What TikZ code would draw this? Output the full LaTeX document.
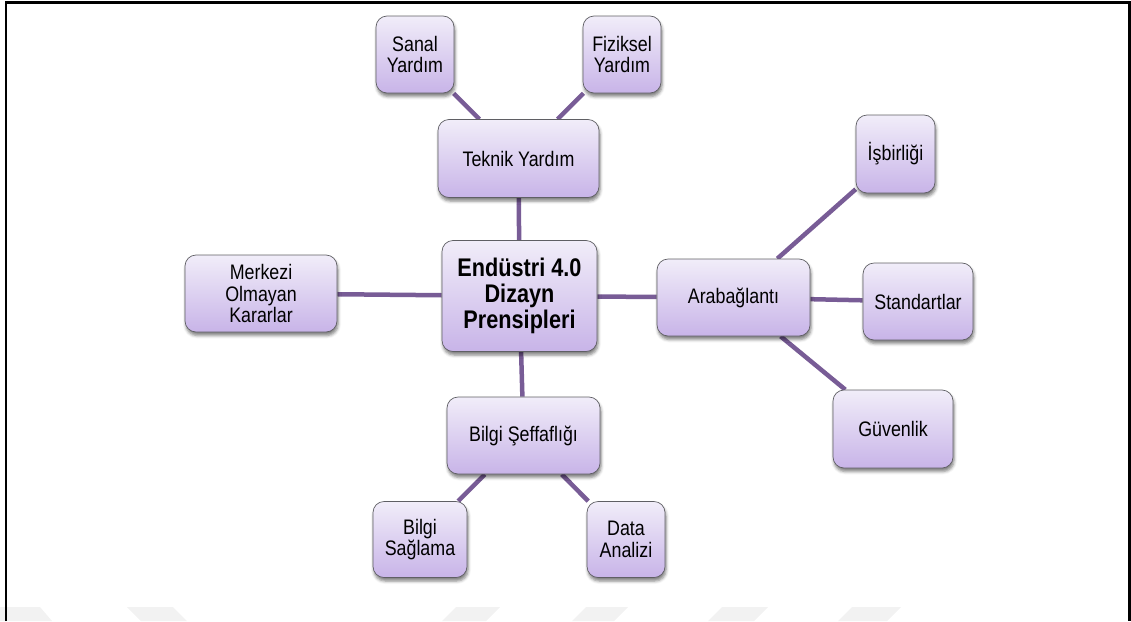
\documentclass[tikz,border=0pt]{standalone}
\usepackage{fontspec}
\setmainfont{Liberation Sans}[FakeStretch=0.85]
\usetikzlibrary{backgrounds,shadows.blur}

\definecolor{boxtop}{RGB}{241,237,249}
\definecolor{boxbot}{RGB}{200,180,232}
\definecolor{boxline}{RGB}{95,95,100}
\definecolor{linkcol}{RGB}{120,92,150}
\definecolor{markgray}{RGB}{242,242,242}

\begin{document}
\begin{tikzpicture}[x=1pt,y=-1pt,
  box/.style={draw=boxline, line width=0.7pt, rounded corners=11pt,
    top color=boxtop, bottom color=boxbot, align=center, inner sep=0pt,
    font=\fontsize{21}{21.5}\selectfont,
    blur shadow={shadow xshift=1pt, shadow yshift=-3.5pt,
      shadow blur radius=3pt, shadow opacity=50}},
  hub/.style={box, font=\bfseries\fontsize{25.5}{26}\selectfont},
  link/.style={draw=linkcol, line width=4.5pt},
  frameline/.style={draw=black, line width=2.2pt},
  slantmark/.style={fill=markgray}]

\useasboundingbox (0,0) rectangle (1131,621);

% light marks along the lower edge
\fill[slantmark] (-20,607) -- (40,607) -- (52,621) -- (-8,621) -- cycle;
\fill[slantmark] (127,607) -- (173,607) -- (187,621) -- (141,621) -- cycle;
\fill[slantmark] (456,607) -- (500,607) -- (486,621) -- (442,621) -- cycle;
\fill[slantmark] (586,607) -- (628,607) -- (614,621) -- (572,621) -- cycle;
\fill[slantmark] (722,607) -- (768,607) -- (754,621) -- (708,621) -- cycle;
\fill[slantmark] (852,607) -- (901,607) -- (887,621) -- (838,621) -- cycle;

% open frame
\draw[frameline] (6,621) -- (6,2.5) -- (1129.5,2.5) -- (1129.5,621);

% nodes
\node[hub, minimum width=155pt, minimum height=111pt] (hub) at (519.5,296) {Endüstri 4.0\\Dizayn\\Prensipleri};

\node[box, minimum width=161pt, minimum height=78pt] (tek) at (518.5,158.5) {Teknik Yardım};
\node[box, minimum width=78pt, minimum height=77pt] (san) at (415,54.5) {Sanal\\Yardım};
\node[box, minimum width=78pt, minimum height=77pt] (fiz) at (622,54.5) {Fiziksel\\Yardım};

\node[box, minimum width=152pt, minimum height=77pt] (mer) at (261,293.5) {Merkezi\\Olmayan\\Kararlar};

\node[box, minimum width=153pt, minimum height=77pt] (ara) at (733.5,297.5) {Arabağlantı};
\node[box, minimum width=79pt, minimum height=78pt] (isb) at (895.5,154) {İşbirliği};
\node[box, minimum width=110pt, minimum height=77pt] (sta) at (918,301.5) {Standartlar};
\node[box, minimum width=120pt, minimum height=78pt] (guv) at (893,429) {Güvenlik};

\node[box, minimum width=153pt, minimum height=77pt] (sef) at (523.5,435.5) {Bilgi Şeffaflığı};
\node[box, minimum width=94pt, minimum height=76pt] (sag) at (420,539.5) {Bilgi\\Sağlama};
\node[box, minimum width=78pt, minimum height=76pt] (dat) at (626,539.5) {Data\\Analizi};

% connectors behind the boxes
\begin{pgfonlayer}{background}
  \draw[link] (hub) -- (tek);
  \draw[link] (tek) -- (san);
  \draw[link] (tek) -- (fiz);
  \draw[link] (hub) -- (mer);
  \draw[link] (hub) -- (ara);
  \draw[link] (ara) -- (isb);
  \draw[link] (ara) -- (sta);
  \draw[link] (ara) -- (guv);
  \draw[link] (hub) -- (sef);
  \draw[link] (sef) -- (sag);
  \draw[link] (sef) -- (dat);
\end{pgfonlayer}
\end{tikzpicture}
\end{document}
